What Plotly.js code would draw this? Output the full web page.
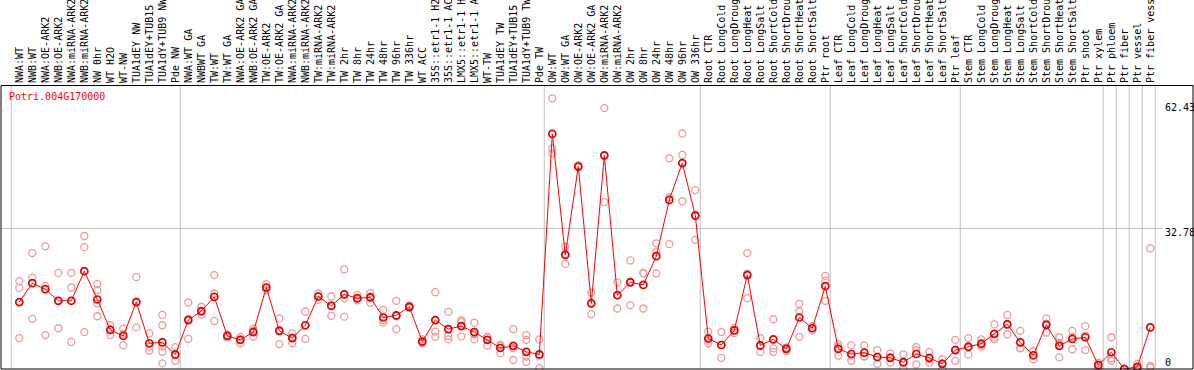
<!DOCTYPE html>
<html><head><meta charset="utf-8">
<script src="https://cdn.plot.ly/plotly-3.0.1.min.js"></script>
<style>html,body{margin:0;padding:0;background:#fff;overflow:hidden}#chart{width:1194px;height:370px}</style>
</head><body><div id="chart"></div>
<script>
const geneId = "Potri.004G170000";

const categories = [
  "NWA:WT","NWB:WT","NWA:OE-ARK2","NWB:OE-ARK2","NWA:miRNA-ARK2","NWB:miRNA-ARK2","NW 0hr","WT H2O","WT-NW","TUA1dEY NW","TUA1dEY+TUB15 NW","TUA1dY+TUB9 NW","Pde NW",
  "NWA:WT GA","NWBWT GA","TW:WT","TW:WT GA","NWA:OE-ARK2 GA","NWB:OE-ARK2 GA","TW:OE-ARK2","TW:OE-ARK2 GA","NWA:miRNA-ARK2 GA","NWB:miRNA-ARK2 GA","TW:miRNA-ARK2","TW:miRNA-ARK2 GA",
  "TW 2hr","TW 8hr","TW 24hr","TW 48hr","TW 96hr","TW 336hr","WT ACC","35S::etr1-1 H2O","35S::etr1-1 ACC","LMX5::etr1-1 H2O","LMX5::etr1-1 ACC","WT-TW","TUA1dEY TW","TUA1dEY+TUB15 TW","TUA1dY+TUB9 TW","Pde TW",
  "OW:WT","OW:WT GA","OW:OE-ARK2","OW:OE-ARK2 GA","OW:miRNA-ARK2","OW:miRNA-ARK2 GA","OW 2hr","OW 8hr","OW 24hr","OW 48hr","OW 96hr","OW 336hr",
  "Root CTR","Root LongCold","Root LongDrought","Root LongHeat","Root LongSalt","Root ShortCold","Root ShortDrought","Root ShortHeat","Root ShortSalt","Ptr root",
  "Leaf CTR","Leaf LongCold","Leaf LongDrought","Leaf LongHeat","Leaf LongSalt","Leaf ShortCold","Leaf ShortDrought","Leaf ShortHeat","Leaf ShortSalt","Ptr leaf",
  "Stem CTR","Stem LongCold","Stem LongDrought","Stem LongHeat","Stem LongSalt","Stem ShortCold","Stem ShortDrought","Stem ShortHeat","Stem ShortSalt","Ptr shoot",
  "Ptr xylem","Ptr phloem","Ptr fiber","Ptr vessel","Ptr fiber vessel"
];

const means = [
  15.6,20.0,18.6,15.9,15.9,22.8,16.2,9.1,7.7,15.6,6.0,6.2,3.4,
  11.4,13.5,16.8,7.7,6.8,8.6,19.0,8.9,7.2,10.2,16.9,14.7,17.4,16.5,16.7,12.0,12.5,14.5,6.4,11.4,9.3,10.0,8.6,6.8,4.9,5.4,4.0,3.4,
  54.8,26.6,47.2,15.3,49.8,17.2,20.2,19.6,26.3,39.4,48.0,35.8,
  7.1,5.6,9.0,21.9,5.5,6.9,4.7,12.0,9.5,19.3,
  4.7,3.5,3.8,2.8,2.6,1.6,3.5,2.6,1.2,4.4,
  5.2,5.9,8.2,10.4,6.2,3.2,10.3,5.4,7.0,7.4,
  0.9,3.9,0.0,0.5,9.7
];

const replicates = [
  [20.5,18.9,7.2],[27.0,21.3,11.7],[28.6,19.3,7.9],[22.4,9.5,15.8],[22.4,19.0,6.3],[31.0,28.4,8.6],[19.8,18.4,15.3,12.3],[10.2,7.9,9.2],[9.4,5.5,8.2],[21.4,9.7,15.7],[8.3,5.2,4.3],[12.6,10.2,5.2,4.0,1.3],[5.1,1.9,3.2],
  [15.5,7.0,11.7],[14.5,12.7,13.3],[21.9,17.6,11.2],[8.0,7.3,7.8],[7.5,6.0,6.9],[9.4,7.5,8.9],[19.8,18.4,18.8],[11.8,5.8,9.1],[8.3,6.0,7.3],[13.4,7.0,10.2],[17.6,16.1,17.0],[16.9,12.4,14.8],
  [23.2,16.5,12.2],[17.2,16.0,16.3],[17.7,15.5,16.9],[13.8,10.8,11.4],[15.9,9.3,12.3],[14.8,14.2,14.5],[6.9,6.0,6.3],[17.9,8.7,7.5],[13.3,6.9,7.7],[11.4,7.6,11.0],[10.8,6.9,8.1],[7.5,5.5,7.4],[5.6,3.7,5.4],[9.3,2.1,4.9],[7.9,6.8,2.9,1.7],[6.9,0.2,3.1],
  [63.1,51.4,50.3],[28.5,24.5,26.8],[47.5,47.0,47.2],[17.8,12.8,15.3],[60.8,38.9,49.7],[20.2,14.1,17.3],[25.3,14.9,20.4],[22.3,14.1,22.4],[29.3,27.3,22.3],[49.1,29.1,40.0],[54.9,49.9,39.1],[41.7,30.1,35.6],
  [8.7,6.0,6.6],[8.6,2.6,5.6],[9.6,8.4,9.0],[27.0,16.5,22.2],[7.2,4.0,5.3],[11.6,4.8,4.0],[5.0,4.2,4.9],[15.2,13.4,7.5],[10.0,9.0,9.5],[21.7,20.6,15.9],
  [5.8,3.1,5.2],[5.5,1.9,3.1],[5.5,2.9,3.0],[4.4,1.2,2.8],[3.6,1.5,2.7],[3.4,0.0,1.4],[5.1,1.1,4.4],[4.0,1.5,2.3],[2.3,0.0,1.3],[6.8,1.9,4.5],
  [7.2,3.4,5.0],[6.9,5.2,5.6],[10.4,6.9,7.3],[12.6,8.1,10.5],[8.9,4.8,4.9],[4.2,2.3,3.1],[11.8,8.5,10.6],[7.4,2.7,6.1],[8.9,4.6,7.5],[10.0,4.4,7.8],
  [1.4,0.3,1.0],[7.4,2.5,1.9],[0.0,0.0,0.0],[1.2,0.0,0.3],[28.1,0.7,0.3]
];

// last category index of each group (vertical separators)
const groupEnds = [-1, 12, 40, 52, 62, 72, 83, 84, 85, 86, 87];
const axisLabels = ["62.43", "32.78", "0"];
const axisLabelValues = [62.43, 32.78, 0];
const gridValue = 32.78;

// ---- geometry ----
const W = 1194, H = 370, T = 86, B = 1, L = 1, R = 1;
const plotW = W - L - R, plotH = H - T - B;
const pxPerCat = 13, pxPerUnit = 4.29;
const xStart = -18.3 / pxPerCat;
const xRange = [xStart, xStart + plotW / pxPerCat];
const yRange = [0, plotH / pxPerUnit];
const topPaper = (plotH + 0.5) / plotH;

const idx = categories.map((_, i) => i);
const repX = [], repY = [];
replicates.forEach((arr, i) => arr.forEach(v => { repX.push(i); repY.push(v); }));

const mono = "DejaVu Sans Mono, monospace";

const traces = [
  {type: "scatter", mode: "markers", x: repX, y: repY, cliponaxis: false, hoverinfo: "skip",
   marker: {symbol: "circle-open", size: 7, color: "#ef9a9a", line: {width: 1.3, color: "#ef9a9a"}}},
  {type: "scatter", mode: "lines+markers", x: idx, y: means, cliponaxis: false,
   line: {color: "#ff0000", width: 1},
   marker: {symbol: "circle-open", size: 7, color: "#e00000", line: {width: 1.7, color: "#e00000"}}}
];

const shapes = [];
groupEnds.forEach(e => shapes.push({type: "line", xref: "x", yref: "paper", x0: e + 0.38, x1: e + 0.38,
  y0: 0, y1: topPaper, line: {color: "#c0c0c0", width: 1}, layer: "below"}));
shapes.push({type: "line", xref: "x", yref: "y", x0: xRange[0], x1: 87.9, y0: gridValue, y1: gridValue,
  line: {color: "#c0c0c0", width: 1}, layer: "below"});
shapes.push({type: "rect", xref: "paper", yref: "paper", x0: 0, x1: 1, y0: 0, y1: topPaper,
  line: {color: "#000", width: 1}, layer: "above"});

const labelPx = [107.7, 232, 362];
const annotations = axisLabels.map((t, k) => ({
  text: t, xref: "paper", yref: "paper", x: (1162.5 - L) / plotW, xanchor: "left",
  y: (H - B - labelPx[k]) / plotH, yanchor: "middle", showarrow: false,
  font: {family: mono, size: 10, color: "#000"}
}));

const layout = {
  width: W, height: H,
  margin: {l: L, r: R, t: T, b: B, pad: 0},
  paper_bgcolor: "#fff", plot_bgcolor: "#fff",
  showlegend: false, hovermode: false,
  title: {text: geneId, xref: "container", yref: "container", x: 9 / W, xanchor: "left",
          y: 1 - 96.5 / H, yanchor: "middle", font: {family: mono, size: 10, color: "#ff0000"}},
  xaxis: {side: "top", range: xRange, tickmode: "array", tickvals: idx, ticktext: categories,
          tickangle: -90, ticks: "", showgrid: false, zeroline: false, showline: true,
          linecolor: "#000", linewidth: 1, automargin: false, fixedrange: true,
          tickfont: {family: mono, size: 10, color: "#000"}},
  yaxis: {range: yRange, showgrid: false, zeroline: false, showticklabels: false, ticks: "",
          showline: false, fixedrange: true, automargin: false},
  shapes: shapes,
  annotations: annotations
};

Plotly.newPlot("chart", traces, layout, {staticPlot: true, displayModeBar: false});
</script>
</body></html>
